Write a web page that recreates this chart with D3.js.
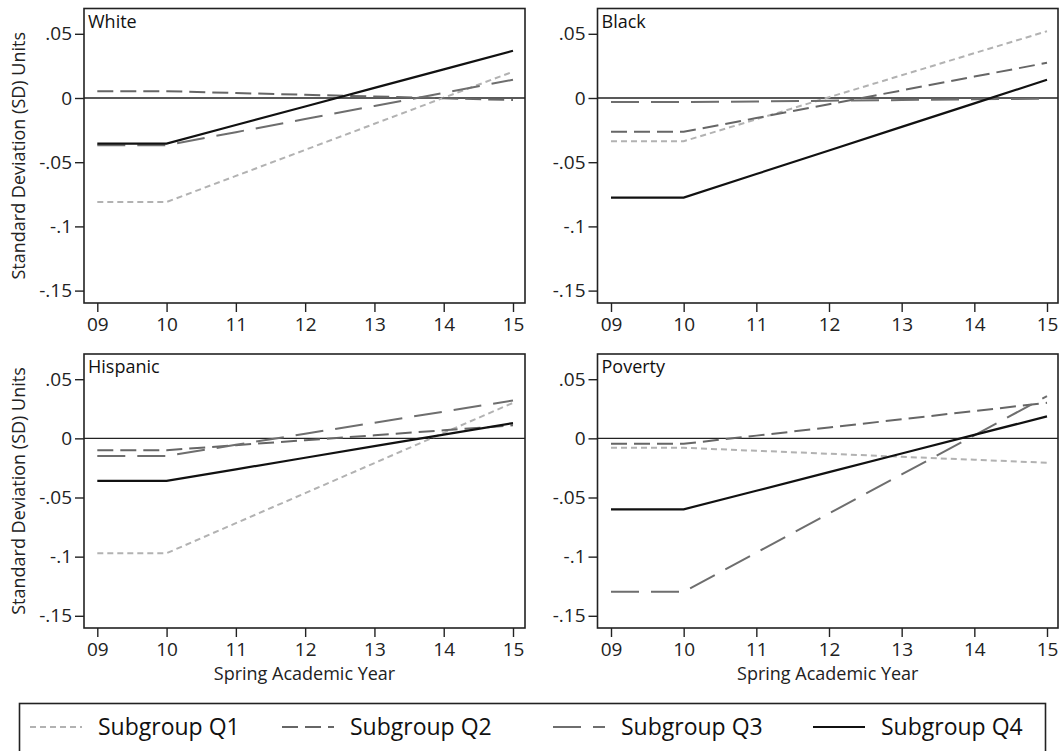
<!DOCTYPE html>
<html><head><meta charset="utf-8">
<script src="https://cdn.jsdelivr.net/npm/d3@7/dist/d3.min.js"></script>
<style>
body{margin:0;background:#fff;}
svg{display:block;font-family:"Open Sans",sans-serif;}
</style>
</head><body>
<svg id="c" width="1059" height="751"></svg>
<script>
// ---- data ----
const years = [9, 10, 11, 12, 13, 14, 15];
const yearLabels = ["09", "10", "11", "12", "13", "14", "15"];
const yTickValues = [0.05, 0, -0.05, -0.1, -0.15];
const yTickLabels = [".05", "0", "-.05", "-.1", "-.15"];
const panelNames = ["White", "Black", "Hispanic", "Poverty"];
const subgroupNames = ["Subgroup Q1", "Subgroup Q2", "Subgroup Q3", "Subgroup Q4"];
const yAxisTitle = "Standard Deviation (SD) Units";
const xAxisTitle = "Spring Academic Year";

const whiteQ1 = [-0.081, -0.081, -0.0607, -0.0404, -0.0201, 0.0002, 0.0205];
const whiteQ2 = [0.0053, 0.0053, 0.0039, 0.0025, 0.0012, -0.0002, -0.0016];
const whiteQ3 = [-0.0368, -0.0368, -0.0266, -0.0164, -0.0062, 0.004, 0.0142];
const whiteQ4 = [-0.0355, -0.0355, -0.021, -0.0066, 0.0079, 0.0223, 0.0368];

const blackQ1 = [-0.0337, -0.0337, -0.0166, 0.0006, 0.0177, 0.0349, 0.052];
const blackQ2 = [-0.0263, -0.0263, -0.0156, -0.0048, 0.0059, 0.0167, 0.0274];
const blackQ3 = [-0.0032, -0.0032, -0.0027, -0.0021, -0.0016, -0.001, -0.0005];
const blackQ4 = [-0.0776, -0.0776, -0.0592, -0.0409, -0.0225, -0.0042, 0.0142];

const hispanicQ1 = [-0.0971, -0.0971, -0.0717, -0.0463, -0.0209, 0.0046, 0.030];
const hispanicQ2 = [-0.010, -0.010, -0.0058, -0.0016, 0.0026, 0.0068, 0.011];
const hispanicQ3 = [-0.0149, -0.0149, -0.0055, 0.0039, 0.0132, 0.0226, 0.032];
const hispanicQ4 = [-0.036, -0.036, -0.0262, -0.0164, -0.0066, 0.0031, 0.0129];

const povertyQ1 = [-0.008, -0.008, -0.0105, -0.013, -0.0156, -0.0181, -0.0206];
const povertyQ2 = [-0.0046, -0.0046, 0.0023, 0.0092, 0.0161, 0.0231, 0.030];
const povertyQ3 = [-0.1297, -0.1297, -0.0966, -0.0635, -0.0305, 0.0026, 0.0357];
const povertyQ4 = [-0.060, -0.060, -0.0443, -0.0286, -0.0128, 0.0029, 0.0186];

const seriesByPanel = [
  [whiteQ1, whiteQ2, whiteQ3, whiteQ4],
  [blackQ1, blackQ2, blackQ3, blackQ4],
  [hispanicQ1, hispanicQ2, hispanicQ3, hispanicQ4],
  [povertyQ1, povertyQ2, povertyQ3, povertyQ4]
];

// ---- layout / style ----
const layout = [
  {frame: [84, 8.5, 525, 303], xr: [97.3, 513], yr: [290.6, 33.8], xTitle: false},
  {frame: [597.5, 8.5, 1058, 303], xr: [611, 1047], yr: [290.6, 33.8], xTitle: false},
  {frame: [84, 354, 525, 628], xr: [97.3, 513], yr: [615.8, 379.2], xTitle: true},
  {frame: [597.5, 354, 1058, 628], xr: [611, 1047], yr: [615.8, 379.2], xTitle: true}
];
const styles = [
  {color: "#b2b2b2", dash: "6,4", width: 2},
  {color: "#666666", dash: "16,7", width: 2},
  {color: "#6e6e6e", dash: "28,12", width: 2},
  {color: "#111111", dash: null, width: 2.2}
];
const axisColor = "#222";

const svg = d3.select("#c");

panelNames.forEach((name, p) => {
  const L = layout[p];
  const [fx0, fy0, fx1, fy1] = L.frame;
  const x = d3.scaleLinear().domain([9, 15]).range(L.xr);
  const y = d3.scaleLinear().domain([-0.15, 0.05]).range(L.yr);
  const g = svg.append("g");

  // y axis
  const ya = g.append("g").attr("transform", `translate(${fx0},0)`)
    .call(d3.axisLeft(y).tickValues(yTickValues)
      .tickFormat((d, i) => yTickLabels[i]).tickSize(9).tickPadding(3));
  // x axis
  const xa = g.append("g").attr("transform", `translate(0,${fy1})`)
    .call(d3.axisBottom(x).tickValues(years)
      .tickFormat((d, i) => yearLabels[i]).tickSize(9).tickPadding(6));
  [ya, xa].forEach(a => {
    a.select(".domain").remove();
    a.selectAll(".tick line").attr("stroke", axisColor).attr("stroke-width", 1.4);
    a.selectAll(".tick text").attr("fill", axisColor)
      .style("font-size", "19px").style("font-family", '"Open Sans",sans-serif');
  });

  // zero line
  g.append("line").attr("x1", fx0).attr("x2", fx1)
    .attr("y1", y(0)).attr("y2", y(0))
    .attr("stroke", axisColor).attr("stroke-width", 1.4);

  // series
  const line = d3.line().x((d, i) => x(years[i])).y(d => y(d));
  seriesByPanel[p].forEach((vals, s) => {
    const st = styles[s];
    g.append("path").datum(vals).attr("d", line)
      .attr("fill", "none").attr("stroke", st.color)
      .attr("stroke-width", st.width)
      .attr("stroke-dasharray", st.dash);
  });

  // frame
  g.append("rect").attr("x", fx0).attr("y", fy0)
    .attr("width", fx1 - fx0).attr("height", fy1 - fy0)
    .attr("fill", "none").attr("stroke", axisColor).attr("stroke-width", 1.6);

  // panel label
  g.append("text").attr("x", fx0 + 4).attr("y", fy0 + 19)
    .attr("fill", "#111").style("font-size", "18px").text(name);

  // y axis title
  if (p % 2 === 0) {
    g.append("text")
      .attr("transform", `translate(25,${(fy0 + fy1) / 2}) rotate(-90)`)
      .attr("text-anchor", "middle").attr("fill", "#222")
      .style("font-size", "18px").text(yAxisTitle);
  }
  if (L.xTitle) {
    g.append("text").attr("x", (fx0 + fx1) / 2).attr("y", fy1 + 52)
      .attr("text-anchor", "middle").attr("fill", "#222")
      .style("font-size", "18px").text(xAxisTitle);
  }
});

// ---- legend ----
const leg = svg.append("g");
leg.append("rect").attr("x", 19.5).attr("y", 703.5).attr("width", 1026).attr("height", 70)
  .attr("fill", "#fff").attr("stroke", axisColor).attr("stroke-width", 1.6);
const legX = [30, 282, 553, 813];
subgroupNames.forEach((nm, s) => {
  const st = styles[s];
  leg.append("line").attr("x1", legX[s]).attr("x2", legX[s] + 52)
    .attr("y1", 727).attr("y2", 727)
    .attr("stroke", st.color).attr("stroke-width", st.width)
    .attr("stroke-dasharray", st.dash);
  leg.append("text").attr("x", legX[s] + 68).attr("y", 735)
    .attr("fill", "#111").style("font-size", "23px").text(nm);
});
</script>
</body></html>
